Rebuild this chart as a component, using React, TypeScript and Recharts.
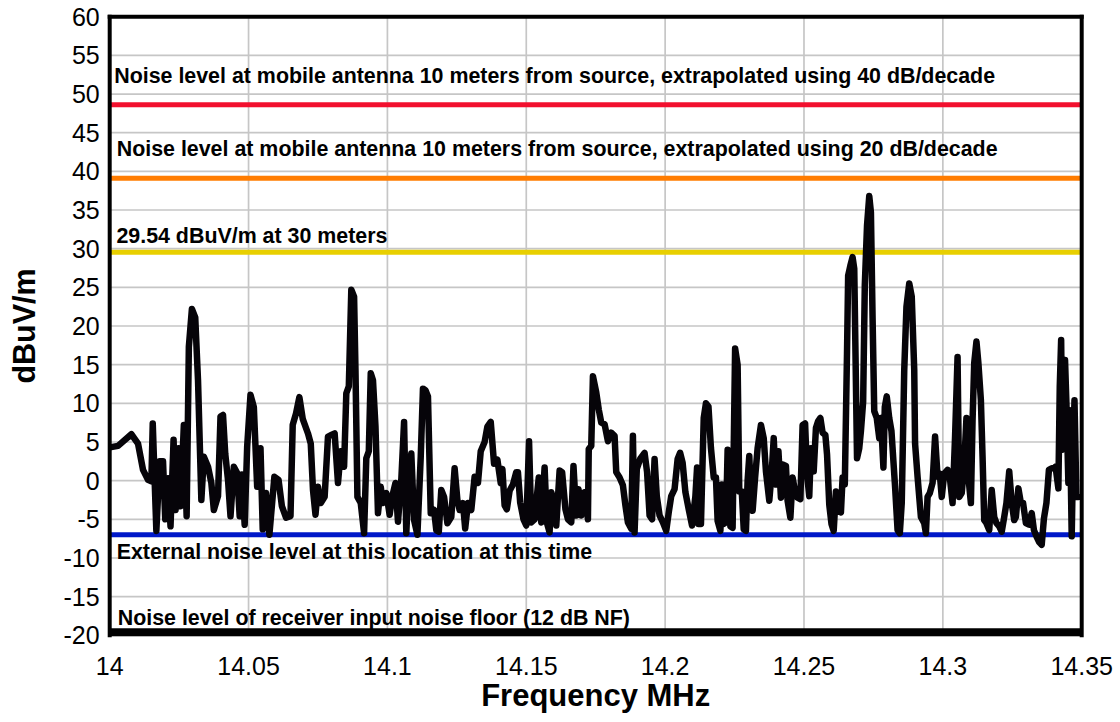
import { CartesianGrid, Line, LineChart, ReferenceLine, XAxis, YAxis } from 'recharts'

// Spectrum sweep 14.00 - 14.35 MHz, field strength
const freqMHz = [
  14.0000, 14.0030, 14.0078, 14.0102, 14.0120, 14.0138, 14.0150, 14.0155, 14.0168, 14.0180,
  14.0192, 14.0200, 14.0210, 14.0219, 14.0230, 14.0237, 14.0248, 14.0255, 14.0267, 14.0277,
  14.0285, 14.0296, 14.0308, 14.0318, 14.0330, 14.0339, 14.0354, 14.0366, 14.0375, 14.0390,
  14.0399, 14.0408, 14.0416, 14.0426, 14.0435, 14.0447, 14.0459, 14.0468, 14.0476, 14.0486,
  14.0495, 14.0507, 14.0519, 14.0531, 14.0543, 14.0551, 14.0563, 14.0575, 14.0593, 14.0608,
  14.0620, 14.0635, 14.0651, 14.0659, 14.0671, 14.0683, 14.0695, 14.0714, 14.0724, 14.0732,
  14.0741, 14.0750, 14.0760, 14.0774, 14.0786, 14.0798, 14.0810, 14.0822, 14.0832, 14.0844,
  14.0852, 14.0861, 14.0870, 14.0880, 14.0885, 14.0892, 14.0904, 14.0916, 14.0924, 14.0933,
  14.0940, 14.0948, 14.0957, 14.0966, 14.0976, 14.0984, 14.0996, 14.1008, 14.1017, 14.1029,
  14.1038, 14.1050, 14.1060, 14.1068, 14.1077, 14.1086, 14.1096, 14.1108, 14.1120, 14.1128,
  14.1137, 14.1146, 14.1156, 14.1168, 14.1176, 14.1185, 14.1194, 14.1204, 14.1216, 14.1230,
  14.1242, 14.1252, 14.1260, 14.1272, 14.1280, 14.1290, 14.1302, 14.1314, 14.1326, 14.1336,
  14.1350, 14.1360, 14.1372, 14.1384, 14.1396, 14.1408, 14.1414, 14.1422, 14.1430, 14.1440,
  14.1452, 14.1464, 14.1470, 14.1478, 14.1490, 14.1500, 14.1510, 14.1518, 14.1530, 14.1536,
  14.1545, 14.1554, 14.1566, 14.1574, 14.1584, 14.1590, 14.1598, 14.1608, 14.1620, 14.1629,
  14.1641, 14.1650, 14.1662, 14.1670, 14.1680, 14.1688, 14.1698, 14.1710, 14.1722, 14.1725,
  14.1734, 14.1740, 14.1752, 14.1761, 14.1770, 14.1782, 14.1794, 14.1806, 14.1818, 14.1824,
  14.1836, 14.1848, 14.1857, 14.1866, 14.1878, 14.1884, 14.1890, 14.1898, 14.1910, 14.1926,
  14.1935, 14.1944, 14.1953, 14.1962, 14.1970, 14.1980, 14.1992, 14.2004, 14.2013, 14.2022,
  14.2034, 14.2045, 14.2054, 14.2063, 14.2073, 14.2085, 14.2097, 14.2109, 14.2115, 14.2120,
  14.2129, 14.2139, 14.2147, 14.2156, 14.2165, 14.2175, 14.2183, 14.2189, 14.2199, 14.2204,
  14.2211, 14.2219, 14.2225, 14.2235, 14.2243, 14.2252, 14.2261, 14.2267, 14.2276, 14.2283,
  14.2291, 14.2297, 14.2303, 14.2309, 14.2315, 14.2324, 14.2333, 14.2345, 14.2355, 14.2363,
  14.2375, 14.2384, 14.2391, 14.2399, 14.2408, 14.2417, 14.2423, 14.2435, 14.2441, 14.2451,
  14.2459, 14.2468, 14.2477, 14.2487, 14.2495, 14.2504, 14.2511, 14.2519, 14.2525, 14.2535,
  14.2543, 14.2551, 14.2559, 14.2567, 14.2577, 14.2583, 14.2591, 14.2599, 14.2607, 14.2615,
  14.2623, 14.2633, 14.2639, 14.2647, 14.2655, 14.2659, 14.2667, 14.2675, 14.2681, 14.2691,
  14.2699, 14.2705, 14.2713, 14.2719, 14.2727, 14.2735, 14.2741, 14.2747, 14.2753, 14.2762,
  14.2771, 14.2777, 14.2786, 14.2791, 14.2798, 14.2807, 14.2815, 14.2828, 14.2837, 14.2845,
  14.2852, 14.2861, 14.2869, 14.2879, 14.2888, 14.2897, 14.2900, 14.2909, 14.2921, 14.2933,
  14.2939, 14.2945, 14.2953, 14.2963, 14.2972, 14.2981, 14.2989, 14.2996, 14.3005, 14.3017,
  14.3025, 14.3035, 14.3044, 14.3053, 14.3059, 14.3068, 14.3077, 14.3085, 14.3092, 14.3101,
  14.3107, 14.3113, 14.3121, 14.3128, 14.3137, 14.3143, 14.3149, 14.3157, 14.3167, 14.3176,
  14.3185, 14.3193, 14.3203, 14.3212, 14.3221, 14.3229, 14.3239, 14.3248, 14.3257, 14.3263,
  14.3272, 14.3281, 14.3289, 14.3299, 14.3310, 14.3320, 14.3328, 14.3337, 14.3346, 14.3356,
  14.3364, 14.3373, 14.3382, 14.3392, 14.3400, 14.3406, 14.3416, 14.3421, 14.3426, 14.3430,
  14.3440, 14.3445, 14.3452, 14.3457, 14.3464, 14.3469, 14.3474, 14.3481, 14.3488,
]

const levelDbuv = [
  4.3, 4.5, 6.0, 4.8, 1.4, 0.1, -0.1, 7.4, -6.5, 2.5,
  2.5, -5.0, 0.3, -5.9, 5.3, -3.8, 4.2, -3.3, 7.2, -4.6,
  17.3, 22.2, 21.1, 13.0, -2.5, 3.1, 1.8, -0.3, -3.8, -2.0,
  8.3, 8.5, 3.5, 0.1, -4.6, 1.8, 1.0, -4.6, 0.8, -5.7,
  4.4, 11.1, 9.5, -0.8, 4.2, -6.3, -1.6, -7.0, 0.5, 0.1,
  -3.3, -4.8, -4.6, 7.2, 8.7, 10.8, 8.0, 6.1, 4.8, -1.2,
  -4.4, -0.8, -2.9, -2.1, 5.7, 5.9, 6.1, -0.3, 3.8, 1.8,
  11.3, 12.2, 24.7, 23.8, 14.3, -2.1, -2.9, -6.8, 2.9, 3.8,
  13.9, 13.0, 7.0, -4.2, -0.8, -2.9, -1.6, -4.4, -2.1, -0.3,
  -5.3, 0.1, 7.6, -6.8, 0.5, 3.5, -5.1, -7.0, 3.1, 11.9,
  11.7, 10.9, -4.2, -3.8, -6.4, -6.6, -1.2, -2.1, -5.5, -4.7,
  1.6, -2.5, -3.8, -2.9, -6.2, -2.9, -3.8, 0.5, -0.3, 3.8,
  5.0, 7.0, 7.6, 2.2, 2.7, -0.3, 1.5, -3.2, -3.7, -1.3,
  -0.5, 1.1, 1.1, -2.8, -5.0, -5.8, 5.1, -5.4, -5.0, -2.8,
  0.4, -5.4, 1.7, -5.4, -6.7, -1.5, -2.4, -5.8, 1.3, 1.1,
  -3.7, -5.0, -5.4, 1.9, -4.5, -1.1, -4.5, -1.5, -5.0, 4.1,
  4.5, 13.5, 11.4, 9.2, 7.5, 7.3, 5.1, 6.2, 5.8, 1.1,
  0.4, -0.6, -3.2, -5.4, -6.2, 5.8, -6.7, 1.5, 2.8, 3.6,
  1.1, -4.5, -5.0, 2.8, -2.0, -4.5, -5.4, -6.5, -4.1, -2.0,
  -1.1, 2.8, 3.6, 2.3, -1.5, -3.7, -5.8, -2.0, 1.7, -5.6,
  -5.6, 8.1, 10.0, 9.6, 4.2, 0.4, 0.4, -5.2, -6.5, -0.5,
  -5.6, -5.4, 4.0, -5.9, -6.1, 17.1, 15.0, -1.4, -1.4, -6.3,
  -6.5, 0.0, 3.2, -2.2, -3.9, 0.4, 4.2, 7.2, 5.5, 1.2,
  -2.6, 1.2, 5.5, -0.5, 3.8, -2.2, 2.1, 1.9, -2.6, -4.8,
  0.4, -1.4, -2.2, -2.4, 7.2, 7.4, 0.8, -2.0, 4.2, 1.2,
  6.8, 7.7, 8.1, 6.2, 5.9, 3.4, -3.1, -5.6, -6.5, -1.4,
  -3.9, -4.1, 0.4, -0.5, 16.7, 26.5, 27.8, 28.9, 27.4, 2.9,
  4.2, 6.4, 10.2, 25.3, 33.0, 36.8, 34.7, 21.0, 9.0, 8.1,
  5.5, 8.1, 1.7, 9.5, 10.9, 8.1, 6.4, -0.8, -6.4, -6.8,
  -2.9, 14.3, 22.5, 25.5, 23.8, 14.3, 4.8, 0.5, -4.7, -5.5,
  -6.8, -2.1, -1.6, -0.3, 5.7, 0.5, 0.9, -2.1, 0.9, 1.4,
  0.5, -2.9, 5.7, 16.0, -2.1, -1.6, 2.2, 8.1, 0.5, -2.9,
  7.8, 15.2, 18.0, 15.2, 10.4, 3.1, -5.1, -5.5, -6.4, -1.2,
  -4.7, -5.5, -5.9, -6.6, -4.7, -2.9, 1.2, -2.9, -5.1, -4.7,
  -1.0, -2.9, -2.9, -5.5, -5.7, -4.2, -6.4, -7.2, -7.9, -8.3,
  -4.9, -2.9, 1.4, 1.6, 1.6, 1.8, -1.0, 12.2, 18.2, 4.0,
  15.6, 10.0, -0.3, 9.1, -7.2, 3.1, 10.4, -2.1, -2.1,
]

const freqTicks = [14, 14.05, 14.1, 14.15, 14.2, 14.25, 14.3, 14.35]
const levelTicks = [-20, -15, -10, -5, 0, 5, 10, 15, 20, 25, 30, 35, 40, 45, 50, 55, 60]

// reference levels, dBuV/m
const LEVEL_40DB = 48.6
const LEVEL_20DB = 39.1
const LEVEL_30M = 29.54
const LEVEL_EXTERNAL = -7
const LEVEL_RECEIVER = -19.6

const LABEL_40DB = 'Noise level at mobile antenna 10 meters from source, extrapolated using 40 dB/decade'
const LABEL_20DB = 'Noise level at mobile antenna 10 meters from source, extrapolated using 20 dB/decade'
const LABEL_30M = '29.54 dBuV/m at 30 meters'
const LABEL_EXTERNAL = 'External noise level at this location at this time'
const LABEL_RECEIVER = 'Noise level of receiver input noise floor (12 dB NF)'

const data = freqMHz.map((freq, i) => ({ freq, level: levelDbuv[i] }))

const FONT = 'Arial, "Liberation Sans", Helvetica, sans-serif'
const GRID_STROKE = '#c6c6c6'
const TICK_STYLE = { fill: '#000', fontSize: 25, fontFamily: FONT }

function lineText(text: string, dx: number, dy: number) {
  return (props: any) => {
    const vb = props.viewBox || {}
    return (
      <text x={vb.x + dx} y={vb.y + dy} fill="#000" fontFamily={FONT} fontSize={21.4} fontWeight="bold">
        {text}
      </text>
    )
  }
}

function XTitle(props: any) {
  const vb = props.viewBox || {}
  return (
    <text x={vb.x + vb.width / 2} y={vb.y + 71} textAnchor="middle" fill="#000" fontFamily={FONT} fontSize={31} fontWeight="bold">
      Frequency MHz
    </text>
  )
}

function YTitle(props: any) {
  const vb = props.viewBox || {}
  const x = vb.x + 35
  const y = vb.y + vb.height / 2
  return (
    <text x={x} y={y} transform={`rotate(-90, ${x}, ${y})`} textAnchor="middle" fill="#000" fontFamily={FONT} fontSize={30.5} fontWeight="bold">
      dBuV/m
    </text>
  )
}

export default function App() {
  return (
    <div style={{ position: 'absolute', left: 0, top: 0, background: '#fff' }}>
      <LineChart width={1120} height={722} data={data} margin={{ top: 16.7, right: 38.3, left: 0, bottom: 0 }}>
        <CartesianGrid stroke={GRID_STROKE} strokeWidth={1.7} />
        <XAxis
          dataKey="freq"
          type="number"
          domain={[14, 14.35]}
          ticks={freqTicks}
          interval={0}
          allowDataOverflow
          tickLine={false}
          axisLine={false}
          tickMargin={16}
          height={86.7}
          tick={TICK_STYLE}
          label={XTitle}
        />
        <YAxis
          type="number"
          domain={[-20, 60]}
          ticks={levelTicks}
          interval={0}
          allowDataOverflow
          tickLine={false}
          axisLine={false}
          tickMargin={4}
          width={109.7}
          tick={TICK_STYLE}
          label={YTitle}
        />
        <ReferenceLine y={LEVEL_40DB} stroke="#f2102e" strokeWidth={5} label={lineText(LABEL_40DB, 4.5, -22.2)} />
        <ReferenceLine y={LEVEL_20DB} stroke="#ff7c00" strokeWidth={5} label={lineText(LABEL_20DB, 7, -22.3)} />
        <ReferenceLine y={LEVEL_30M} stroke="#e8cf00" strokeWidth={5} label={lineText(LABEL_30M, 6.7, -9)} />
        <ReferenceLine y={LEVEL_EXTERNAL} stroke="#0018c8" strokeWidth={5} label={lineText(LABEL_EXTERNAL, 7, 24.5)} />
        <Line
          dataKey="level"
          type="linear"
          stroke="#060409"
          strokeWidth={6.5}
          strokeLinejoin="round"
          strokeLinecap="round"
          dot={false}
          activeDot={false}
          isAnimationActive={false}
        />
        <ReferenceLine y={LEVEL_RECEIVER} stroke="#000" strokeWidth={8} label={lineText(LABEL_RECEIVER, 8, -7.3)} />
        <ReferenceLine y={60} stroke="#000" strokeWidth={4} strokeLinecap="square" />
        <ReferenceLine x={14} stroke="#000" strokeWidth={4} strokeLinecap="square" />
        <ReferenceLine x={14.35} stroke="#000" strokeWidth={4} strokeLinecap="square" />
      </LineChart>
    </div>
  )
}
